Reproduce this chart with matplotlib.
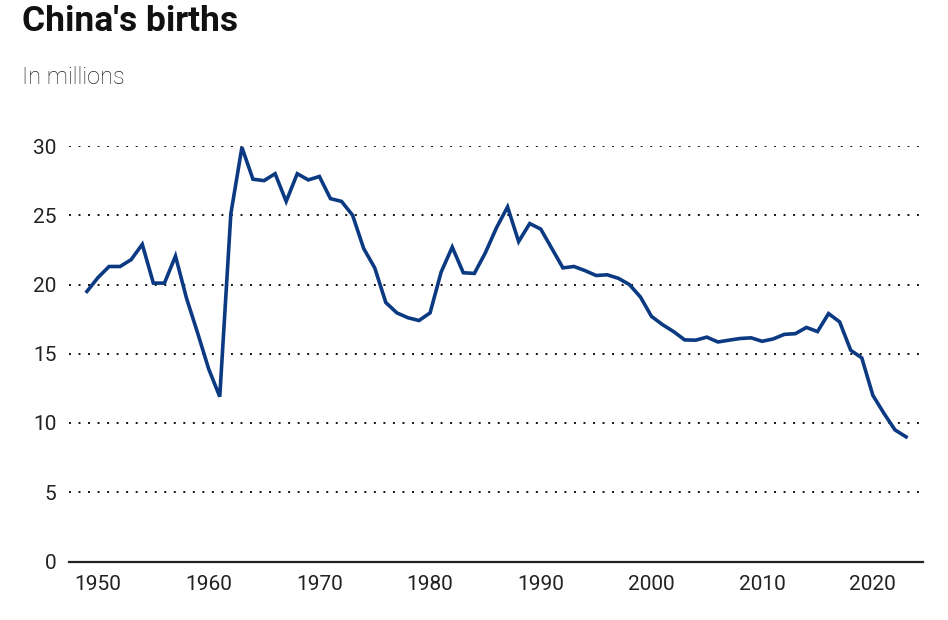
import matplotlib
matplotlib.use("Agg")
import matplotlib.pyplot as plt

years = list(range(1949, 2024))
births = [
    19.5, 20.5, 21.3, 21.3, 21.8, 22.9, 20.1, 20.1, 22.05, 19.0,   # 1949-1958
    16.5, 13.9, 11.9, 25.1, 29.9, 27.6, 27.5, 28.0, 26.0, 28.0,    # 1959-1968
    27.55, 27.8, 26.2, 26.0, 25.0, 22.6, 21.2, 18.7, 17.95, 17.6,  # 1969-1978
    17.4, 17.95, 20.9, 22.7, 20.85, 20.8, 22.3, 24.1, 25.6, 23.1,  # 1979-1988
    24.4, 24.0, 22.6, 21.2, 21.3, 21.0, 20.65, 20.7, 20.45, 20.0,  # 1989-1998
    19.1, 17.7, 17.1, 16.6, 16.0, 15.98, 16.2, 15.85, 15.98, 16.1, # 1999-2008
    16.15, 15.9, 16.07, 16.4, 16.45, 16.9, 16.6, 17.9, 17.3, 15.25, # 2009-2018
    14.7, 12.0, 10.7, 9.5, 9.0,                                    # 2019-2023
]
x_ticks = [1950, 1960, 1970, 1980, 1990, 2000, 2010, 2020]
y_ticks = [0, 5, 10, 15, 20, 25, 30]

plt.rcParams['font.family'] = ['Roboto', 'DejaVu Sans']

fig = plt.figure(figsize=(9.48, 6.2), dpi=100)
ax = fig.add_axes([69 / 948, 58.5 / 620, 854 / 948, 415.5 / 620])

for v in y_ticks[1:]:
    ax.axhline(v, color='#111111', lw=1.4, ls=(0, (1, 3.9)), zorder=1)

ax.plot(years, births, color='#0b3a82', lw=2.6, solid_joinstyle='miter',
        zorder=3, clip_on=False)

ax.set_xlim(1947.38, 2024.53)
ax.set_ylim(0, 30)
ax.set_xticks(x_ticks)
ax.set_yticks(y_ticks)
ax.tick_params(axis='both', length=0, labelsize=15, colors='#222222')
ax.tick_params(axis='y', pad=9)
ax.tick_params(axis='x', pad=10)

for s in ['top', 'right', 'left']:
    ax.spines[s].set_visible(False)
ax.spines['bottom'].set_color('#222222')
ax.spines['bottom'].set_linewidth(1.6)

fig.text(22 / 948, 1 - 31 / 620, "China's births", fontsize=25.5,
         fontweight='bold', color='#111111', va='baseline')
fig.text(22 / 948, 1 - 84 / 620, "In millions", fontsize=17,
         fontweight='light', color='#222222', va='baseline')

fig.savefig("out.png", dpi=100)
